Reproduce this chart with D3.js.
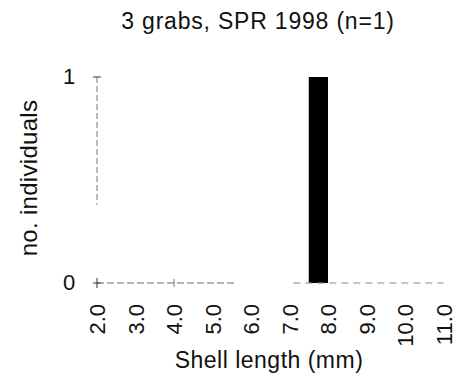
<!DOCTYPE html>
<html><head><meta charset="utf-8">
<script src="https://cdn.jsdelivr.net/npm/d3@7"></script>
<style>body{margin:0;background:#fff}text{font-family:"Liberation Sans",Arial,sans-serif;fill:#111}</style>
</head><body>
<script>
const title = "3 grabs, SPR 1998 (n=1)";
const binStarts = [2.0,2.5,3.0,3.5,4.0,4.5,5.0,5.5,6.0,6.5,7.0,7.5,8.0,8.5,9.0,9.5,10.0,10.5];
const counts    = [0,0,0,0,0,0,0,0,0,0,0,1,0,0,0,0,0,0];
const xTicks = [2,3,4,5,6,7,8,9,10,11];
const yTicks = [0,1];
const binWidth = 0.5;

const W=462,H=379;
const svg=d3.select("body").append("svg").attr("width",W).attr("height",H);
const x=d3.scaleLinear().domain([2,11]).range([97,443.5]);
const y=d3.scaleLinear().domain([0,1]).range([283,77]);

svg.append("text").attr("x",258).attr("y",29).attr("text-anchor","middle")
  .style("font-size","23px").style("letter-spacing","0.8px").text(title);

// y axis
const ya=svg.append("g").attr("transform","translate(97,0)");
ya.append("line").attr("y1",y(1)).attr("y2",y(0.38)).attr("stroke","#777").attr("stroke-width",1).attr("stroke-dasharray","6,3");
ya.selectAll("line.t").data(yTicks).join("line").attr("class","t")
  .attr("x1",-4).attr("x2",4).attr("y1",d=>y(d)).attr("y2",d=>y(d)).attr("stroke","#333");
ya.selectAll("text").data(yTicks).join("text").attr("x",-28).attr("y",d=>y(d)+7)
  .attr("text-anchor","middle").style("font-size","22px").text(d=>d);

// bars
svg.selectAll("rect").data(binStarts.map((b,i)=>({b,c:counts[i]})).filter(d=>d.c>0)).join("rect")
  .attr("x",d=>x(d.b)).attr("width",d=>x(d.b+binWidth)-x(d.b))
  .attr("y",d=>y(d.c)).attr("height",d=>y(0)-y(d.c)).attr("fill","#000");

// x axis
const xa=svg.append("g").attr("transform","translate(0,283)");
xa.append("line").attr("x1",x(2)).attr("x2",x(5.6)).attr("stroke","#666").attr("stroke-dasharray","7,3");
xa.append("line").attr("x1",x(7.1)).attr("x2",x(11)).attr("stroke","#888").attr("stroke-dasharray","7,5");
xa.append("line").attr("x1",x(2)).attr("x2",x(2)).attr("y1",-5).attr("y2",5).attr("stroke","#333");
xa.append("line").attr("x1",x(4)).attr("x2",x(4)).attr("y1",-4).attr("y2",4).attr("stroke","#777");
xa.selectAll("text").data(xTicks).join("text")
  .attr("transform",d=>`translate(${x(d)+8},${21}) rotate(-90)`)
  .attr("text-anchor","end").style("font-size","22px").text(d=>d.toFixed(1));

svg.append("text").attr("x",269).attr("y",368).attr("text-anchor","middle")
  .style("font-size","23px").style("letter-spacing","0.5px").text("Shell length (mm)");
svg.append("text").attr("transform","translate(37,178) rotate(-90)").attr("text-anchor","middle")
  .style("font-size","24px").style("letter-spacing","0.3px").text("no. individuals");
</script>
</body></html>
